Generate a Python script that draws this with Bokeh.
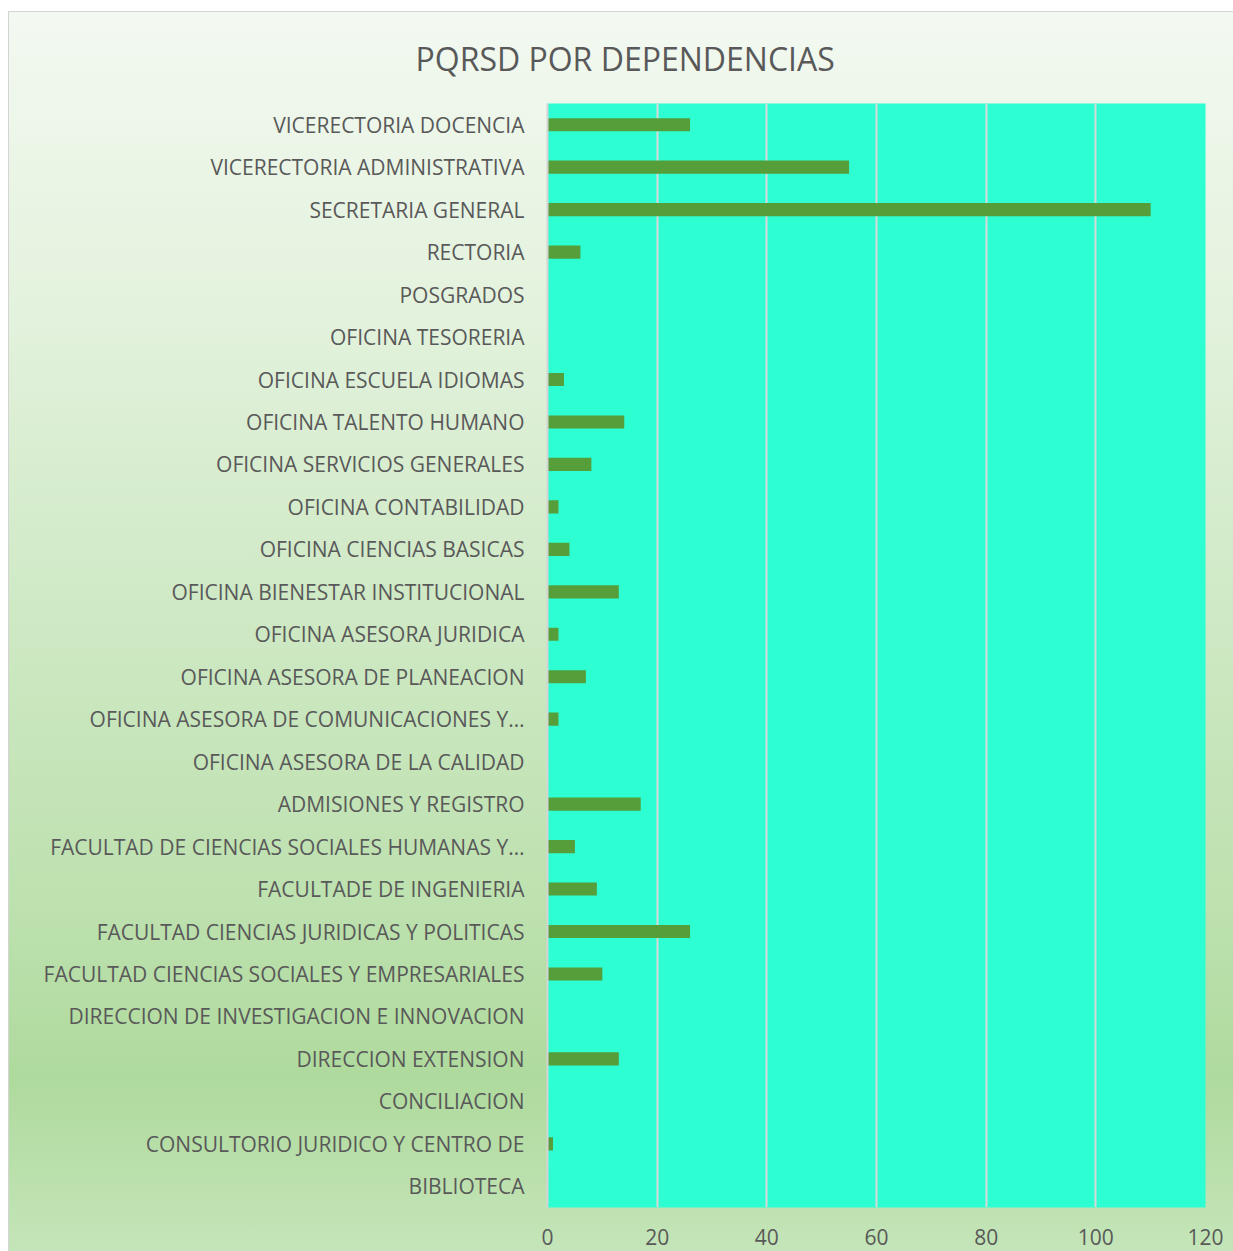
from bokeh.plotting import figure
from bokeh.models import FactorRange, Range1d, FixedTicker, ColumnDataSource
from bokeh.embed import file_html
from bokeh.resources import INLINE

categories = [
    "VICERECTORIA DOCENCIA",
    "VICERECTORIA ADMINISTRATIVA",
    "SECRETARIA GENERAL",
    "RECTORIA",
    "POSGRADOS",
    "OFICINA TESORERIA",
    "OFICINA ESCUELA IDIOMAS",
    "OFICINA TALENTO HUMANO",
    "OFICINA SERVICIOS GENERALES",
    "OFICINA CONTABILIDAD",
    "OFICINA CIENCIAS BASICAS",
    "OFICINA BIENESTAR INSTITUCIONAL",
    "OFICINA ASESORA JURIDICA",
    "OFICINA ASESORA DE PLANEACION",
    "OFICINA ASESORA DE COMUNICACIONES Y…",
    "OFICINA ASESORA DE LA CALIDAD",
    "ADMISIONES Y REGISTRO",
    "FACULTAD DE CIENCIAS SOCIALES HUMANAS Y…",
    "FACULTADE DE INGENIERIA",
    "FACULTAD CIENCIAS JURIDICAS Y POLITICAS",
    "FACULTAD CIENCIAS SOCIALES Y EMPRESARIALES",
    "DIRECCION DE INVESTIGACION E INNOVACION",
    "DIRECCION EXTENSION",
    "CONCILIACION",
    "CONSULTORIO JURIDICO Y CENTRO DE",
    "BIBLIOTECA",
]
values = [26, 55, 110, 6, 0, 0, 3, 14, 8, 2, 4, 13, 2, 7, 2, 0, 17, 5, 9, 26, 10, 0, 13, 0, 1, 0]
x_ticks = [0, 20, 40, 60, 80, 100, 120]

source = ColumnDataSource(dict(cat=categories, val=values))

TEXT = "#595959"
FONT = "Open Sans"

p = figure(
    width=1225, height=1240,
    y_range=FactorRange(factors=list(reversed(categories)), range_padding=0),
    x_range=Range1d(0, 120),
    output_backend="svg", toolbar_location=None,
    title="PQRSD POR DEPENDENCIAS",
    min_border_left=539, min_border_right=28, min_border_bottom=44, min_border_top=92,
    frame_width=658, frame_height=1104,
)
p.styles = {
    "margin-top": "11px",
    "margin-left": "8px",
    "background-image": "linear-gradient(to bottom, #F3F9F1 0%, #E3F2DD 24%, #CFE9C5 48%, #BDE1AF 72%, #AFDA9D 86%, #B9DFAA 93%, #C4E5B9 100%)",
    "box-shadow": "inset 1px 1px 0 #D4D4D4",
}
p.border_fill_alpha = 0
p.background_fill_color = "#2DFFD2"
p.outline_line_color = None

p.hbar(y="cat", right="val", left=0, height=0.31, source=source,
       fill_color="#559E3A", line_color=None)

p.title.align = "left"
p.title.vertical_align = "middle"
p.title.text_font = FONT
p.title.text_font_size = "32px"
p.title.text_font_style = "normal"
p.title.text_color = TEXT
p.title.standoff = 46
p.title.offset = -132

p.xaxis.ticker = FixedTicker(ticks=x_ticks)
p.xaxis.axis_line_color = None
p.xaxis.major_tick_line_color = None
p.xaxis.minor_tick_line_color = None
p.xaxis.major_label_text_font = FONT
p.xaxis.major_label_text_font_size = "21px"
p.xaxis.major_label_text_color = TEXT
p.xaxis.major_label_standoff = 15

p.yaxis.axis_line_color = "#D4D4D4"
p.yaxis.axis_line_width = 2
p.yaxis.major_tick_line_color = None
p.yaxis.minor_tick_line_color = None
p.yaxis.major_label_text_font = FONT
p.yaxis.major_label_text_font_size = "21px"
p.yaxis.major_label_text_color = TEXT
p.yaxis.major_label_standoff = 17

p.xgrid.grid_line_color = "#D9D9D9"
p.xgrid.grid_line_width = 2
p.ygrid.grid_line_color = None

open("out.html", "w").write(file_html(p, INLINE))
